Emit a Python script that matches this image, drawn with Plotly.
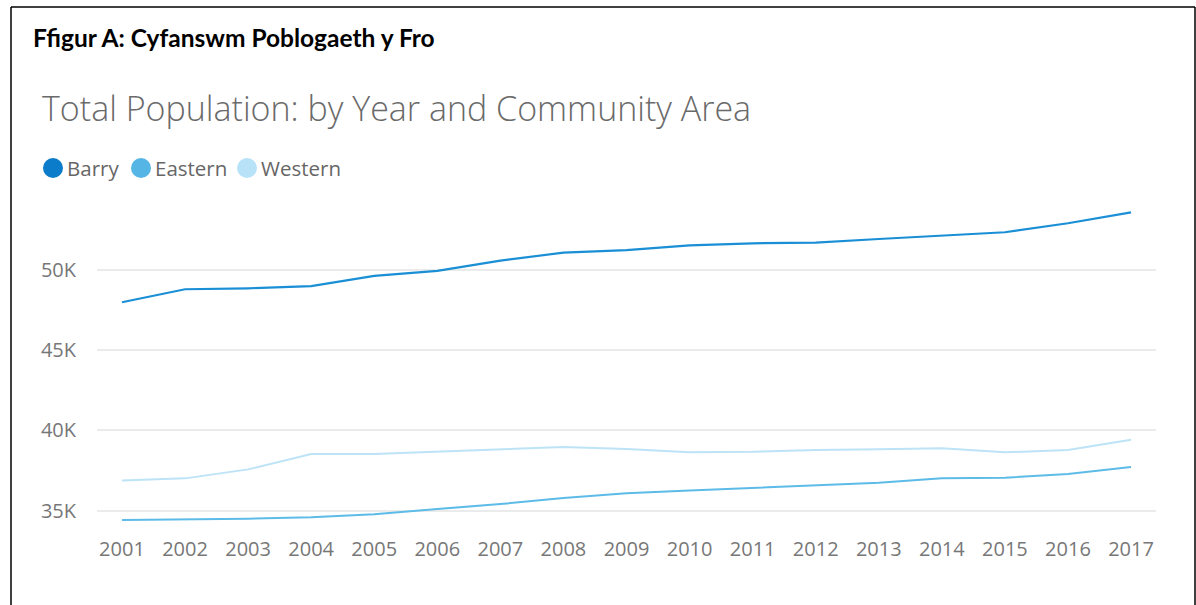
import plotly.graph_objects as go

years = list(range(2001, 2018))
barry = [47960, 48770, 48830, 48970, 49600, 49910, 50550, 51050, 51210, 51500,
         51630, 51670, 51900, 52130, 52320, 52880, 53560]
eastern = [34410, 34450, 34490, 34580, 34760, 35090, 35400, 35780, 36070, 36250,
           36420, 36590, 36730, 37000, 37040, 37270, 37710]
western = [36860, 37000, 37560, 38520, 38510, 38660, 38770, 38950, 38830, 38620,
           38650, 38770, 38810, 38870, 38620, 38770, 39410]
series_names = ["Barry", "Eastern", "Western"]
y_ticks = [35000, 40000, 45000, 50000]
y_tick_labels = ["35K", "40K", "45K", "50K"]

colors = {"Barry": "#1A8FD6", "Eastern": "#5DBBE8", "Western": "#BDE3F7"}
legend_colors = {"Barry": "#0A7CC9", "Eastern": "#55B5E5", "Western": "#B8E2F8"}
widths = {"Barry": 2.2, "Eastern": 2.0, "Western": 2.0}

W, H = 1196, 605
L, R, T, B = 97, 1156, 195, 525

fig = go.Figure()
for name, vals in zip(series_names, [barry, eastern, western]):
    fig.add_trace(go.Scatter(x=years, y=vals, mode="lines", name=name,
                             line=dict(color=colors[name], width=widths[name]),
                             showlegend=False))

def px_x(p):
    return (p - L) / (R - L)

def px_y(p):
    return (B - p) / (B - T)

font_axis = dict(family="Segoe UI, Open Sans, sans-serif", size=20, color="#777777")

fig.update_layout(
    width=W, height=H,
    margin=dict(l=L, r=W - R, t=T, b=H - B),
    paper_bgcolor="white", plot_bgcolor="white",
    xaxis=dict(range=[2000.604, 2017.396], tickvals=years, ticktext=[str(y) for y in years],
               showgrid=False, zeroline=False, showline=False,
               ticks="outside", ticklen=6, tickcolor="rgba(0,0,0,0)",
               tickfont=font_axis),
    yaxis=dict(range=[34098, 54637], tickvals=y_ticks, ticktext=y_tick_labels,
               showgrid=True, gridcolor="#EBEBEB", gridwidth=1.5, zeroline=False,
               showline=False, ticks="outside", ticklen=16, tickcolor="rgba(0,0,0,0)",
               tickfont=font_axis),
    showlegend=False,
)

shapes = []
# outer border (left, top, right)
shapes.append(dict(type="line", xref="paper", yref="paper",
                   x0=px_x(11), x1=px_x(11), y0=px_y(7), y1=px_y(606),
                   line=dict(color="#000000", width=1.5)))
shapes.append(dict(type="line", xref="paper", yref="paper",
                   x0=px_x(11), x1=px_x(1195), y0=px_y(7), y1=px_y(7),
                   line=dict(color="#000000", width=1.5)))
shapes.append(dict(type="line", xref="paper", yref="paper",
                   x0=px_x(1195), x1=px_x(1195), y0=px_y(7), y1=px_y(606),
                   line=dict(color="#000000", width=1.5)))

annotations = []
annotations.append(dict(text="<b>Ffigur A: Cyfanswm Poblogaeth y Fro</b>",
                        xref="paper", yref="paper", x=px_x(31), y=px_y(37),
                        xanchor="left", yanchor="middle", showarrow=False,
                        font=dict(family="Lato, Carlito, sans-serif", size=24.5, color="#000000")))
annotations.append(dict(text="Total Population: by Year and Community Area",
                        xref="paper", yref="paper", x=px_x(40), y=px_y(108),
                        xanchor="left", yanchor="middle", showarrow=False,
                        font=dict(family="Segoe UI Light, Open Sans, sans-serif", size=34,
                                  color="#6A6A6A", weight=300)))

leg_x = {"Barry": 43, "Eastern": 131, "Western": 237}
for name in series_names:
    x0 = leg_x[name]
    shapes.append(dict(type="circle", xref="paper", yref="paper",
                       x0=px_x(x0), x1=px_x(x0 + 20), y0=px_y(158), y1=px_y(178),
                       fillcolor=legend_colors[name], line=dict(width=0)))
    annotations.append(dict(text=name, xref="paper", yref="paper",
                            x=px_x(x0 + 22), y=px_y(168), xanchor="left", yanchor="middle",
                            showarrow=False,
                            font=dict(family="Segoe UI, Open Sans, sans-serif", size=20.5,
                                      color="#666666")))

fig.update_layout(shapes=shapes, annotations=annotations)
fig.write_html("out.html", config={"displayModeBar": False},
               post_script="document.body.style.margin='0';document.body.style.padding='0';")
